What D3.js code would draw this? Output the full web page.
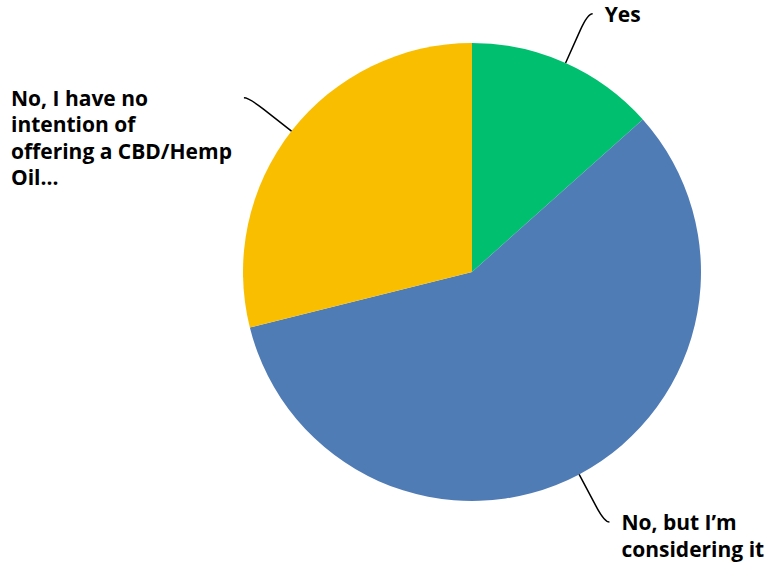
<!DOCTYPE html>
<html>
<head>
<meta charset="utf-8">
<script src="https://cdn.jsdelivr.net/npm/d3@7"></script>
<style>
  body { margin: 0; background: #fff; }
  text { font-family: "Open Sans", sans-serif; font-weight: 700; font-size: 21px; fill: #000; }
</style>
</head>
<body>
<svg id="viz"></svg>
<script>
// the data
var labels = ["Yes", "No, but I\u2019m considering it", "No, I have no intention of offering a CBD/Hemp Oil..."];
var labelLines = [["Yes"], ["No, but I\u2019m", "considering it"], ["No, I have no", "intention of", "offering a CBD/Hemp", "Oil..."]];
var values = [13.4, 57.7, 28.9];
var colors = ["#00bf6f", "#507cb6", "#f9be00"];

// set up the svg
var w = 770, h = 567;
var cx = 472, cy = 272, r = 229;
var viz = d3.select("#viz").attr("width", w).attr("height", h);
var g = viz.append("g").attr("transform", "translate(" + cx + "," + cy + ")");

var pie = d3.pie().sort(null).value(function(d) { return d; });
var arcs = pie(values);
var arc = d3.arc().innerRadius(0).outerRadius(r);

// draw the slices
g.selectAll("path.slice")
  .data(arcs)
  .enter()
  .append("path")
  .attr("class", "slice")
  .attr("d", arc)
  .attr("fill", function(d, i) { return colors[i]; });

// point on a circle of radius rr at angle a (clockwise from top)
function pt(a, rr) { return [Math.sin(a) * rr, -Math.cos(a) * rr]; }

// leader lines and labels
arcs.forEach(function(d, i) {
  var a = (d.startAngle + d.endAngle) / 2;
  var right = Math.sin(a) >= 0;
  var p0 = pt(a, r);
  var p1 = pt(a, r + 36);
  var p2 = pt(a, r + 54);
  var end = [p2[0] + (right ? 5 : -5), p2[1]];
  g.append("path")
    .attr("d", "M" + p0 + "L" + p1 + "Q" + p2 + " " + end)
    .attr("fill", "none")
    .attr("stroke", "#000")
    .attr("stroke-width", 1.5);

  var t = g.append("text").attr("y", end[1] + 8);
  t.selectAll("tspan")
    .data(labelLines[i])
    .enter()
    .append("tspan")
    .attr("dy", function(s, j) { return j ? 26.5 : 0; })
    .text(function(s) { return s; });
  var maxW = 0;
  t.selectAll("tspan").each(function() { maxW = Math.max(maxW, this.getComputedTextLength()); });
  var x = right ? end[0] + 12 : end[0] - 12 - maxW;
  t.attr("x", x).selectAll("tspan").attr("x", x);
});
</script>
</body>
</html>
